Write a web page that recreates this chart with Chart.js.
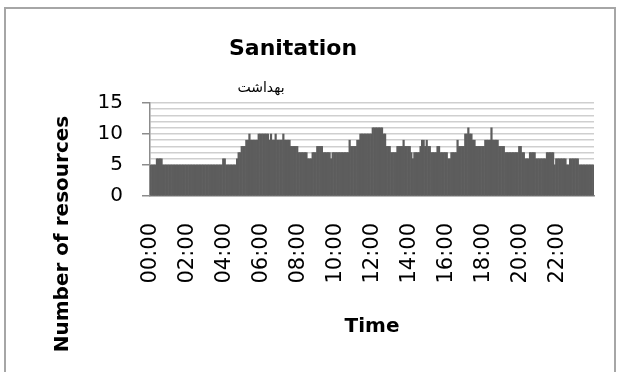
<!DOCTYPE html>
<html>
<head>
<meta charset="utf-8">
<title>Sanitation</title>
<script src="https://cdn.jsdelivr.net/npm/chart.js@4/dist/chart.umd.min.js"></script>
<style>
  html, body { margin: 0; padding: 0; background: #ffffff; }
  canvas { display: block; }
</style>
</head>
<body>
<canvas id="chart" width="621" height="372"></canvas>
<script>
// Number of sanitation resources in use, one value per 5-minute slot (12 slots per hour row)
const h00 = [5,5,5,5,6,6,6,6,5,5,5,5];
const h01 = [5,5,5,5,5,5,5,5,5,5,5,5];
const h02 = [5,5,5,5,5,5,5,5,5,5,5,5];
const h03 = [5,5,5,5,5,5,5,5,5,5,5,6];
const h04 = [6,5,5,5,5,5,5,5,6,7,7,8];
const h05 = [8,8,9,9,10,9,9,9,9,9,10,10];
const h06 = [10,10,10,10,10,9,10,9,9,10,9,9];
const h07 = [9,9,10,9,9,9,9,8,8,8,8,8];
const h08 = [7,7,7,7,7,7,6,6,6,7,7,7];
const h09 = [8,8,8,8,7,7,7,7,7,6,7,7];
const h10 = [7,7,7,7,7,7,7,7,7,9,8,8];
const h11 = [8,8,9,9,10,10,10,10,10,10,10,10];
const h12 = [11,11,11,11,11,11,11,10,10,8,8,8];
const h13 = [7,7,7,7,8,8,8,8,9,8,8,8];
const h14 = [8,7,6,7,7,7,7,8,9,9,8,9];
const h15 = [8,8,7,7,7,7,8,8,7,7,7,7];
const h16 = [7,6,6,7,7,7,7,9,8,8,8,8];
const h17 = [10,10,11,10,10,9,9,8,8,8,8,8];
const h18 = [8,9,9,9,9,11,9,9,9,9,8,8];
const h19 = [8,8,7,7,7,7,7,7,7,7,7,8];
const h20 = [8,7,7,6,6,6,7,7,7,7,6,6];
const h21 = [6,6,6,6,6,7,7,7,7,7,5,6];
const h22 = [6,6,6,6,6,6,5,5,6,6,6,6];
const h23 = [6,6,5,5,5,5,5,5,5,5,5,5];

const hourRows = [h00,h01,h02,h03,h04,h05,h06,h07,h08,h09,h10,h11,
                  h12,h13,h14,h15,h16,h17,h18,h19,h20,h21,h22,h23];
const resources = [].concat(...hourRows);

// Time-of-day category for every slot
const categories = [];
for (let h = 0; h < 24; h++) {
  for (let m = 0; m < 60; m += 5) {
    categories.push(String(h).padStart(2, '0') + ':' + String(m).padStart(2, '0'));
  }
}

// Labels shown on the time axis
const tickLabels = ['00:00','02:00','04:00','06:00','08:00','10:00',
                    '12:00','14:00','16:00','18:00','20:00','22:00'];
const yTickLabels = [0, 5, 10, 15];

const titleText = 'Sanitation';
const subtitleText = 'بهداشت';
const xTitle = 'Time';
const yTitle = 'Number of resources';

const FONT = '"DejaVu Sans", sans-serif';

// Frame and titles drawn around the plot
const decorations = {
  id: 'decorations',
  afterDraw(chart) {
    const c = chart.ctx;
    c.save();
    c.strokeStyle = '#a6a6a6';
    c.lineWidth = 2;
    c.strokeRect(5, 8, 610, 372);

    c.fillStyle = '#000000';
    c.textAlign = 'center';
    c.textBaseline = 'middle';

    c.font = 'bold 22px ' + FONT;
    c.fillText(titleText, 293, 49);

    c.font = '14px ' + FONT;
    c.fillText(subtitleText, 261, 88);

    c.font = 'bold 20px ' + FONT;
    c.fillText(xTitle, 372, 327);

    c.translate(63, 234);
    c.rotate(-Math.PI / 2);
    c.fillText(yTitle, 0, 0);
    c.restore();
  }
};

new Chart(document.getElementById('chart'), {
  type: 'bar',
  data: {
    labels: categories,
    datasets: [{
      data: resources,
      backgroundColor: '#5d5d5d',
      borderWidth: 0,
      barPercentage: 1.0,
      categoryPercentage: 1.0
    }]
  },
  options: {
    responsive: false,
    animation: false,
    events: [],
    layout: { padding: { left: 0, top: 103, right: 27, bottom: 0 } },
    plugins: {
      legend: { display: false },
      title: { display: false },
      tooltip: { enabled: false }
    },
    scales: {
      x: {
        type: 'category',
        afterFit(scale) {
          scale.height = 176;
          scale.paddingLeft = 0;
          scale.paddingRight = 0;
        },
        grid: { display: false, drawTicks: false },
        border: { display: true, color: '#8c8c8c', width: 1.5 },
        ticks: {
          autoSkip: false,
          maxRotation: 90,
          minRotation: 90,
          padding: 27,
          color: '#000000',
          font: { family: FONT, size: 21 },
          callback(value, index) {
            const lab = categories[index];
            return tickLabels.includes(lab) ? lab : '';
          }
        }
      },
      y: {
        min: 0,
        max: 15,
        afterFit(scale) { scale.width = 150; },
        border: { display: true, color: '#8c8c8c', width: 1.5 },
        grid: {
          color: '#cfcfcf',
          lineWidth: 1.5,
          drawTicks: true,
          tickLength: 8,
          tickColor(ctx) {
            return ctx.tick && yTickLabels.includes(ctx.tick.value) ? '#8c8c8c' : 'rgba(0,0,0,0)';
          }
        },
        ticks: {
          stepSize: 1,
          autoSkip: false,
          padding: 19,
          color: '#000000',
          font: { family: FONT, size: 20 },
          callback(value) {
            return yTickLabels.includes(value) ? String(value) : '';
          }
        }
      }
    }
  },
  plugins: [decorations]
});
</script>
</body>
</html>
